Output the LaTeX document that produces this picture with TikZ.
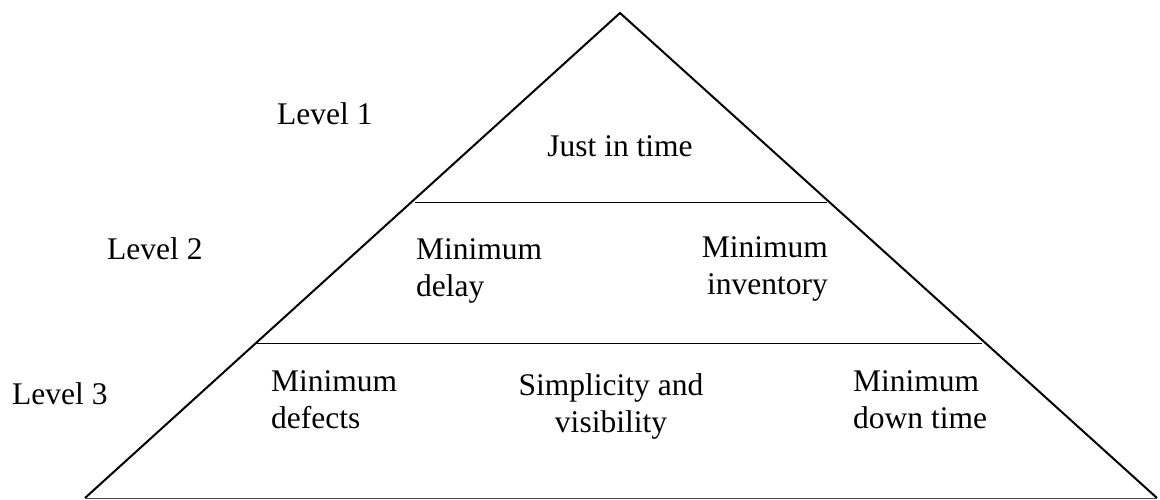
\documentclass[tikz,border=0pt]{standalone}
\usepackage{fontspec}
\setmainfont{Liberation Serif}

\begin{document}
\begin{tikzpicture}[x=1pt, y=-1pt, font=\fontsize{31.5}{37}\selectfont,
        lbl/.style={inner sep=0pt}]
        \useasboundingbox (0, 0) rectangle (1160, 500);

        % pyramid outline
        \coordinate (apex) at (620, 13);
        \coordinate (baseL) at (85, 498);
        \coordinate (baseR) at (1157, 498);
        \draw[line width=2pt] (baseL) -- (apex) -- (baseR);
        \draw[line width=1pt, black!70] (baseL) -- (baseR);

        % level borders
        \coordinate (upL) at (415, 203);
        \coordinate (upR) at (827, 203);
        \coordinate (loL) at (257, 343);
        \coordinate (loR) at (982, 343);
        \draw[line width=1pt] (upL) -- (upR);
        \draw[line width=1pt] (loL) -- (loR);

        % level names
        \node[lbl, anchor=base west] (lev1) at (277, 125) {Level 1};
        \node[lbl, anchor=base west] (lev2) at (107, 259) {Level 2};
        \node[lbl, anchor=base west] (lev3) at (12, 404) {Level 3};

        % contents (base = last line)
        \node[lbl, anchor=base] (jit) at (620, 157) {Just in time};
        \node[lbl, anchor=base west, align=left] (delay) at (416, 296)
            {Minimum\\delay};
        \node[lbl, anchor=base east, align=right] (invent) at (828, 294)
            {Minimum\\inventory};
        \node[lbl, anchor=base west, align=left] (defects) at (271, 428)
            {Minimum\\defects};
        \node[lbl, anchor=base, align=center] (simple) at (611, 432)
            {Simplicity and\\visibility};
        \node[lbl, anchor=base west, align=left] (down) at (853, 428)
            {Minimum\\down time};
\end{tikzpicture}
\end{document}
